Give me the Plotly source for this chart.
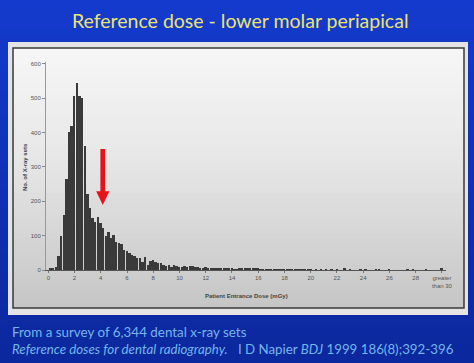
import plotly.graph_objects as go

# ---------------- data ----------------
bin_width = 0.2  # mGy
# counts for bins centred at 0.2, 0.4, ... 29.8 mGy
counts = [
    3, 6, 10, 40, 100, 160, 265, 400, 420, 505,
    545, 505, 500, 360, 220, 180, 150, 140, 155, 138,
    122, 98, 111, 93, 102, 81, 80, 77, 59, 56,
    50, 45, 41, 35, 35, 22, 39, 15, 26, 29,
    24, 20, 19, 16, 12, 14, 10, 16, 12, 10,
    10, 12, 10, 12, 12, 8, 10, 7, 6, 10,
    6, 5, 4, 4, 6, 5, 3, 3, 3, 3,
    2, 2, 3, 4, 5, 4, 5, 4, 3, 3,
    2, 2, 2, 1, 2, 1, 2, 1, 1, 2,
    1, 1, 2, 1, 1, 2, 1, 1, 2, 1,
    0, 2, 0, 1, 0, 1, 0, 2, 0, 1,
    0, 0, 3, 0, 1, 0, 0, 0, 2, 0,
    1, 0, 0, 0, 1, 2, 0, 0, 0, 1,
    0, 0, 0, 0, 0, 0, 2, 0, 2, 0,
    0, 0, 0, 2, 0, 0, 0, 0, 0,
]
over_30_count = 3
over_30_pos = 30

dose_centres = [round(bin_width * (i + 1), 1) for i in range(len(counts))]

x_tick_vals = [0, 2, 4, 6, 8, 10, 12, 14, 16, 18, 20, 22, 24, 26, 28, 30]
x_tick_text = ["0", "2", "4", "6", "8", "10", "12", "14", "16", "18", "20",
               "22", "24", "26", "28", "greater<br>than 30"]
y_tick_vals = [0, 100, 200, 300, 400, 500, 600]

title_text = "Reference dose - lower molar periapical"
x_title = "Patient Entrance Dose (mGy)"
y_title = "No. of X-ray sets"
caption1 = "From a survey of 6,344 dental x-ray sets"
caption2 = ("<i>Reference doses for dental radiography.</i>\u00a0\u00a0\u00a0I D Napier "
            "<i>BDJ</i> 1999 186(8);392-396")

# ---------------- geometry helpers ----------------
W, H = 474, 363
ML, MR, MT, MB = 46, 28, 62, 93
PW, PH = W - ML - MR, H - MT - MB


def xp(px):
    return (px - ML) / PW


def yp(py):
    return (H - MB - py) / PH


def lerp(c1, c2, t):
    return "rgb(%d,%d,%d)" % tuple(round(a + (b - a) * t) for a, b in zip(c1, c2))


shapes = []
# blue slide background gradient
nb = 40
top_blue, bot_blue = (20, 58, 205), (12, 40, 158)
for i in range(nb):
    y0 = H * i / nb
    y1 = H * (i + 1) / nb + 0.5
    shapes.append(dict(type="rect", xref="paper", yref="paper", x0=xp(0), x1=xp(W),
                       y0=yp(y1), y1=yp(y0), line=dict(width=0),
                       fillcolor=lerp(top_blue, bot_blue, i / (nb - 1)), layer="below"))
# outer light frame
shapes.append(dict(type="rect", xref="paper", yref="paper", x0=xp(8), x1=xp(468),
                   y0=yp(315), y1=yp(42), line=dict(width=0), fillcolor="#e4e4e4",
                   layer="below"))
# inner grey gradient panel
py_top, py_bot = 48, 308
ng = 52
c_top, c_mid, c_bot = (246, 246, 246), (232, 232, 232), (198, 198, 198)
for i in range(ng):
    y0 = py_top + (py_bot - py_top) * i / ng
    y1 = py_top + (py_bot - py_top) * (i + 1) / ng + 0.5
    t = i / (ng - 1)
    col = lerp(c_top, c_mid, t / 0.4) if t < 0.4 else lerp(c_mid, c_bot, (t - 0.4) / 0.6)
    shapes.append(dict(type="rect", xref="paper", yref="paper", x0=xp(13), x1=xp(464),
                       y0=yp(min(y1, py_bot)), y1=yp(y0), line=dict(width=0),
                       fillcolor=col, layer="below"))
shapes.append(dict(type="rect", xref="paper", yref="paper", x0=xp(13), x1=xp(464),
                   y0=yp(308), y1=yp(48), line=dict(width=1.5, color="#3a3a3a"),
                   fillcolor="rgba(0,0,0,0)", layer="below"))

# red arrow (annotation mark)
arrow_x = 4.15
shapes.append(dict(type="rect", xref="x", yref="y", x0=arrow_x - 0.18, x1=arrow_x + 0.18,
                   y0=226, y1=352, line=dict(width=0), fillcolor="#e8121a", layer="above"))
shapes.append(dict(type="path", xref="x", yref="y",
                   path="M %f,%f L %f,%f L %f,%f Z" % (arrow_x - 0.5, 229, arrow_x + 0.5, 229,
                                                     arrow_x, 189),
                   line=dict(width=0), fillcolor="#e8121a", layer="above"))

fig = go.Figure()
fig.add_trace(go.Bar(x=dose_centres, y=counts, width=bin_width * 0.72,
                     marker=dict(color="#3a3a3a", line=dict(width=0)), showlegend=False))
fig.add_trace(go.Bar(x=[over_30_pos], y=[over_30_count], width=bin_width * 0.72,
                     marker=dict(color="#3a3a3a", line=dict(width=0)), showlegend=False))

tick_font = dict(family="Liberation Sans, Arial", size=6, color="#555555")
annotations = [
    dict(text=title_text, xref="paper", yref="paper", x=xp(240), y=yp(20),
         showarrow=False, xanchor="center", yanchor="middle",
         font=dict(family="Lato", size=19.5, color="#e8e472")),
    dict(text=caption1, xref="paper", yref="paper", x=xp(10), y=yp(332),
         showarrow=False, xanchor="left", yanchor="middle",
         font=dict(family="Lato", size=13.4, color="#74b6ec")),
    dict(text=caption2, xref="paper", yref="paper", x=xp(10), y=yp(349),
         showarrow=False, xanchor="left", yanchor="middle",
         font=dict(family="Lato", size=13.3, color="#74b6ec")),
    dict(text="<b>" + x_title + "</b>", xref="paper", yref="paper", x=xp(246), y=yp(296),
         showarrow=False, xanchor="center", yanchor="middle",
         font=dict(family="Liberation Sans, Arial", size=6, color="#444444")),
    dict(text="<b>" + y_title + "</b>", xref="paper", yref="paper", x=xp(25), y=yp(167),
         showarrow=False, xanchor="center", yanchor="middle", textangle=-90,
         font=dict(family="Liberation Sans, Arial", size=6, color="#444444")),
]

fig.update_layout(
    width=W, height=H,
    margin=dict(l=ML, r=MR, t=MT, b=MB, pad=0),
    paper_bgcolor="#1433c0",
    plot_bgcolor="rgba(0,0,0,0)",
    bargap=0,
    barmode="overlay",
    shapes=shapes,
    annotations=annotations,
    showlegend=False,
    xaxis=dict(range=[-0.175, 30.31], tickmode="array", tickvals=x_tick_vals,
               ticktext=x_tick_text, showgrid=False, zeroline=False,
               showline=True, linecolor="#555555", linewidth=1,
               ticks="outside", ticklen=2, tickcolor="#777777",
               tickfont=tick_font, fixedrange=True),
    yaxis=dict(range=[0, 605], tickmode="array", tickvals=y_tick_vals,
               showgrid=False, zeroline=False, showline=True, linecolor="#999999",
               linewidth=1, ticks="outside", ticklen=3, tickcolor="#888888",
               tickfont=tick_font, fixedrange=True),
)

fig.write_html("out.html", config={"displayModeBar": False},
               post_script="document.body.style.margin='0';document.body.style.overflow='hidden';")
